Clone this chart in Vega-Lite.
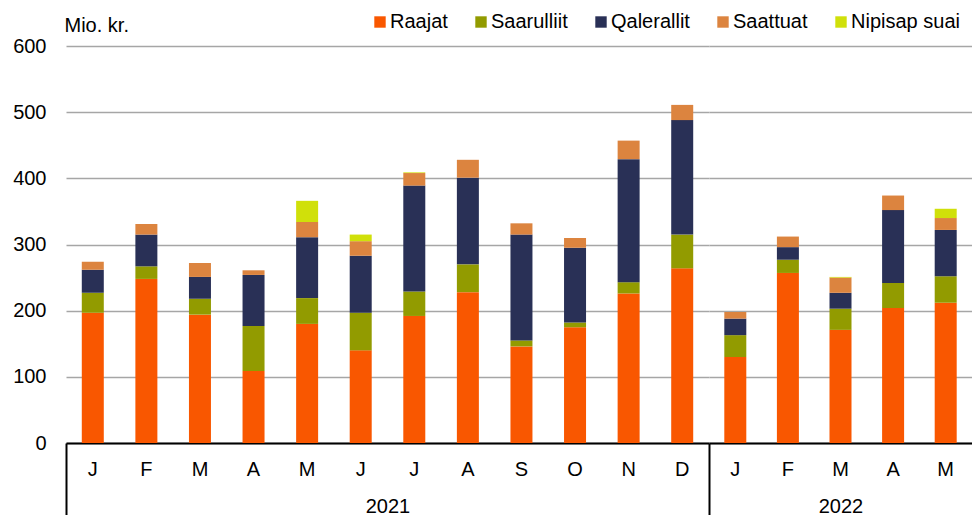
{
  "$schema": "https://vega.github.io/schema/vega-lite/v6.json",
  "padding": {"left": 12, "top": 12, "right": 0, "bottom": 0},
  "background": "white",
  "spacing": 0,
  "bounds": "flush",
  "config": {
    "font": "Liberation Sans",
    "view": {"stroke": null},
    "axis": {"labelFont": "Liberation Sans", "titleFont": "Liberation Sans", "labelFontSize": 20, "titleFontSize": 20, "labelColor": "#000000", "titleColor": "#000000", "titleFontWeight": "normal"},
    "legend": {"labelFont": "Liberation Sans", "labelFontSize": 20, "labelColor": "#000000"}
  },
  "datasets": {
    "main": [
      {"year": 2021, "m": 1, "cat": "Raajat", "value": 197},
      {"year": 2021, "m": 1, "cat": "Saarulliit", "value": 30},
      {"year": 2021, "m": 1, "cat": "Qalerallit", "value": 35},
      {"year": 2021, "m": 1, "cat": "Saattuat", "value": 12},
      {"year": 2021, "m": 2, "cat": "Raajat", "value": 248},
      {"year": 2021, "m": 2, "cat": "Saarulliit", "value": 19},
      {"year": 2021, "m": 2, "cat": "Qalerallit", "value": 48},
      {"year": 2021, "m": 2, "cat": "Saattuat", "value": 16},
      {"year": 2021, "m": 3, "cat": "Raajat", "value": 194},
      {"year": 2021, "m": 3, "cat": "Saarulliit", "value": 24},
      {"year": 2021, "m": 3, "cat": "Qalerallit", "value": 33},
      {"year": 2021, "m": 3, "cat": "Saattuat", "value": 21},
      {"year": 2021, "m": 4, "cat": "Raajat", "value": 109},
      {"year": 2021, "m": 4, "cat": "Saarulliit", "value": 68},
      {"year": 2021, "m": 4, "cat": "Qalerallit", "value": 77},
      {"year": 2021, "m": 4, "cat": "Saattuat", "value": 7},
      {"year": 2021, "m": 5, "cat": "Raajat", "value": 180},
      {"year": 2021, "m": 5, "cat": "Saarulliit", "value": 39},
      {"year": 2021, "m": 5, "cat": "Qalerallit", "value": 92},
      {"year": 2021, "m": 5, "cat": "Saattuat", "value": 23},
      {"year": 2021, "m": 5, "cat": "Nipisap suai", "value": 32},
      {"year": 2021, "m": 6, "cat": "Raajat", "value": 140},
      {"year": 2021, "m": 6, "cat": "Saarulliit", "value": 57},
      {"year": 2021, "m": 6, "cat": "Qalerallit", "value": 86},
      {"year": 2021, "m": 6, "cat": "Saattuat", "value": 22},
      {"year": 2021, "m": 6, "cat": "Nipisap suai", "value": 10},
      {"year": 2021, "m": 7, "cat": "Raajat", "value": 192},
      {"year": 2021, "m": 7, "cat": "Saarulliit", "value": 37},
      {"year": 2021, "m": 7, "cat": "Qalerallit", "value": 160},
      {"year": 2021, "m": 7, "cat": "Saattuat", "value": 19},
      {"year": 2021, "m": 7, "cat": "Nipisap suai", "value": 1},
      {"year": 2021, "m": 8, "cat": "Raajat", "value": 228},
      {"year": 2021, "m": 8, "cat": "Saarulliit", "value": 42},
      {"year": 2021, "m": 8, "cat": "Qalerallit", "value": 131},
      {"year": 2021, "m": 8, "cat": "Saattuat", "value": 27},
      {"year": 2021, "m": 9, "cat": "Raajat", "value": 146},
      {"year": 2021, "m": 9, "cat": "Saarulliit", "value": 9},
      {"year": 2021, "m": 9, "cat": "Qalerallit", "value": 160},
      {"year": 2021, "m": 9, "cat": "Saattuat", "value": 17},
      {"year": 2021, "m": 10, "cat": "Raajat", "value": 175},
      {"year": 2021, "m": 10, "cat": "Saarulliit", "value": 7},
      {"year": 2021, "m": 10, "cat": "Qalerallit", "value": 113},
      {"year": 2021, "m": 10, "cat": "Saattuat", "value": 15},
      {"year": 2021, "m": 11, "cat": "Raajat", "value": 226},
      {"year": 2021, "m": 11, "cat": "Saarulliit", "value": 17},
      {"year": 2021, "m": 11, "cat": "Qalerallit", "value": 186},
      {"year": 2021, "m": 11, "cat": "Saattuat", "value": 28},
      {"year": 2021, "m": 12, "cat": "Raajat", "value": 264},
      {"year": 2021, "m": 12, "cat": "Saarulliit", "value": 51},
      {"year": 2021, "m": 12, "cat": "Qalerallit", "value": 173},
      {"year": 2021, "m": 12, "cat": "Saattuat", "value": 23},
      {"year": 2022, "m": 1, "cat": "Raajat", "value": 130},
      {"year": 2022, "m": 1, "cat": "Saarulliit", "value": 33},
      {"year": 2022, "m": 1, "cat": "Qalerallit", "value": 25},
      {"year": 2022, "m": 1, "cat": "Saattuat", "value": 10},
      {"year": 2022, "m": 2, "cat": "Raajat", "value": 257},
      {"year": 2022, "m": 2, "cat": "Saarulliit", "value": 20},
      {"year": 2022, "m": 2, "cat": "Qalerallit", "value": 19},
      {"year": 2022, "m": 2, "cat": "Saattuat", "value": 16},
      {"year": 2022, "m": 3, "cat": "Raajat", "value": 171},
      {"year": 2022, "m": 3, "cat": "Saarulliit", "value": 32},
      {"year": 2022, "m": 3, "cat": "Qalerallit", "value": 24},
      {"year": 2022, "m": 3, "cat": "Saattuat", "value": 23},
      {"year": 2022, "m": 3, "cat": "Nipisap suai", "value": 1},
      {"year": 2022, "m": 4, "cat": "Raajat", "value": 204},
      {"year": 2022, "m": 4, "cat": "Saarulliit", "value": 38},
      {"year": 2022, "m": 4, "cat": "Qalerallit", "value": 110},
      {"year": 2022, "m": 4, "cat": "Saattuat", "value": 22},
      {"year": 2022, "m": 5, "cat": "Raajat", "value": 212},
      {"year": 2022, "m": 5, "cat": "Saarulliit", "value": 40},
      {"year": 2022, "m": 5, "cat": "Qalerallit", "value": 70},
      {"year": 2022, "m": 5, "cat": "Saattuat", "value": 18},
      {"year": 2022, "m": 5, "cat": "Nipisap suai", "value": 14}
    ]
  },
  "data": {"name": "main"},
  "transform": [
    {"calculate": "indexof(['Raajat','Saarulliit','Qalerallit','Saattuat','Nipisap suai'], datum.cat)", "as": "o"}
  ],
  "resolve": {"scale": {"y": "shared", "color": "shared"}},
  "hconcat": [
    {
      "width": 643,
      "height": 397,
      "transform": [{"filter": "datum.year == 2021"}],
      "layer": [
        {
          "mark": {"type": "bar", "width": 22},
          "encoding": {
            "x": {
              "field": "m", "type": "ordinal",
              "scale": {"paddingInner": 0, "paddingOuter": 0},
              "axis": {
                "orient": "bottom", "title": "2021", "labelAngle": 0,
                "labelExpr": "['J','F','M','A','M','J','J','A','S','O','N','D'][datum.value - 1]",
                "ticks": false, "tickSize": 0, "labelPadding": 16,
                "domainColor": "#000000", "domainWidth": 2, "grid": false,
                "titlePadding": 17
              }
            },
            "y": {
              "field": "value", "type": "quantitative", "stack": "zero",
              "scale": {"domain": [0, 600]},
              "axis": {
                "title": "Mio. kr.", "titleAngle": 0, "titleAlign": "left", "titleBaseline": "middle",
                "titleX": -2, "titleY": -21,
                "values": [0, 100, 200, 300, 400, 500, 600],
                "domain": false, "ticks": false, "tickSize": 0, "labelPadding": 20,
                "gridColor": "#A6A6A6", "gridWidth": 1.5
              }
            },
            "color": {
              "field": "cat", "type": "nominal",
              "scale": {
                "domain": ["Raajat", "Saarulliit", "Qalerallit", "Saattuat", "Nipisap suai"],
                "range": ["#F95700", "#929B00", "#293056", "#DC843F", "#D0E00A"]
              },
              "legend": {
                "orient": "none", "direction": "horizontal", "title": null,
                "legendX": 304, "legendY": -34,
                "symbolType": "square", "symbolSize": 130, "symbolStrokeWidth": 0,
                "labelOffset": 0, "columnPadding": 23
              }
            },
            "order": {"field": "o", "type": "quantitative", "sort": "ascending"}
          }
        },
        {
          "mark": {"type": "rule", "opacity": 0},
          "encoding": {
            "x": {
              "field": "m", "type": "ordinal",
              "axis": {
                "orient": "bottom", "values": [1], "bandPosition": 0,
                "labels": false, "domain": false, "grid": false, "title": null,
                "ticks": true, "tickSize": 72, "tickColor": "#000000", "tickWidth": 2
              }
            }
          }
        }
      ],
      "resolve": {"axis": {"x": "independent"}}
    },
    {
      "width": 263,
      "height": 397,
      "transform": [{"filter": "datum.year == 2022"}],
      "layer": [
        {
          "mark": {"type": "bar", "width": 22},
          "encoding": {
            "x": {
              "field": "m", "type": "ordinal",
              "scale": {"paddingInner": 0, "paddingOuter": 0},
              "axis": {
                "orient": "bottom", "title": "2022", "labelAngle": 0,
                "labelExpr": "['J','F','M','A','M','J','J','A','S','O','N','D'][datum.value - 1]",
                "ticks": false, "tickSize": 0, "labelPadding": 16,
                "domainColor": "#000000", "domainWidth": 2, "grid": false,
                "titlePadding": 17
              }
            },
            "y": {
              "field": "value", "type": "quantitative", "stack": "zero",
              "scale": {"domain": [0, 600]},
              "axis": {
                "title": null, "labels": false, "domain": false, "ticks": false,
                "values": [0, 100, 200, 300, 400, 500, 600],
                "gridColor": "#A6A6A6", "gridWidth": 1.5
              }
            },
            "color": {"field": "cat", "type": "nominal"},
            "order": {"field": "o", "type": "quantitative", "sort": "ascending"}
          }
        },
        {
          "mark": {"type": "rule", "opacity": 0},
          "encoding": {
            "x": {
              "field": "m", "type": "ordinal",
              "axis": {
                "orient": "bottom", "values": [1], "bandPosition": 0,
                "labels": false, "domain": false, "grid": false, "title": null,
                "ticks": true, "tickSize": 72, "tickColor": "#000000", "tickWidth": 2
              }
            }
          }
        }
      ],
      "resolve": {"axis": {"x": "independent"}}
    }
  ]
}
